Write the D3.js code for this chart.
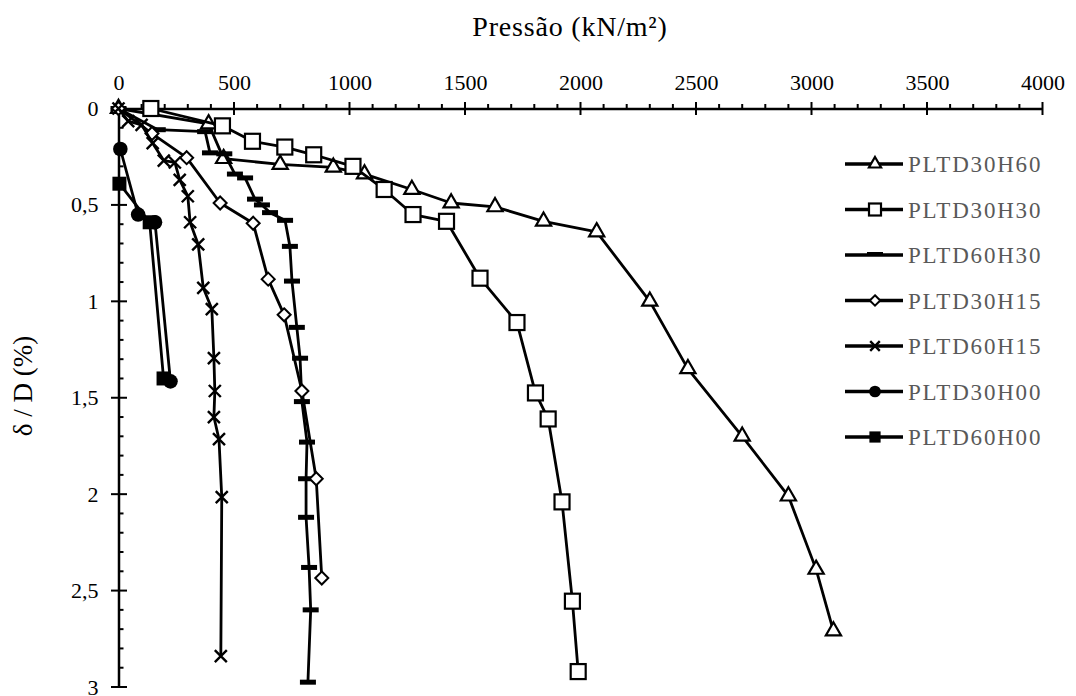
<!DOCTYPE html>
<html>
<head>
<meta charset="utf-8">
<script src="https://cdn.jsdelivr.net/npm/d3@7"></script>
<style>
  body { margin: 0; background: #fff; }
  text { font-family: "Liberation Serif", "Times New Roman", serif; }
</style>
</head>
<body>
<div id="chart"></div>
<script>
// pressure (kN/m2), settlement delta/D (%)
var pltd30h60 = [[0, 0], [390, 0.08], [455, 0.26], [700, 0.29], [930, 0.305], [1065, 0.34],
                 [1270, 0.42], [1440, 0.49], [1630, 0.51], [1840, 0.585], [2070, 0.64],
                 [2300, 1.0], [2465, 1.35], [2700, 1.70], [2900, 2.01], [3020, 2.39], [3095, 2.71]];
var pltd30h30 = [[140, 0], [450, 0.09], [580, 0.17], [720, 0.2], [845, 0.24], [1015, 0.3],
                 [1150, 0.42], [1275, 0.55], [1420, 0.585], [1565, 0.88], [1725, 1.11],
                 [1805, 1.475], [1860, 1.61], [1920, 2.04], [1965, 2.555], [1990, 2.92]];
var pltd60h30 = [[0, 0], [170, 0.11], [375, 0.12], [396, 0.23], [458, 0.235], [504, 0.34],
                 [548, 0.36], [591, 0.47], [621, 0.5], [656, 0.54], [721, 0.58], [742, 0.715],
                 [751, 0.895], [772, 1.135], [786, 1.295], [794, 1.52], [816, 1.73], [812, 1.92],
                 [812, 2.12], [825, 2.38], [832, 2.6], [820, 2.975]];
var pltd30h15 = [[0, 0], [145, 0.13], [295, 0.255], [440, 0.49], [583, 0.595], [648, 0.885],
                 [717, 1.07], [794, 1.465], [856, 1.92], [880, 2.435]];
var pltd60h15 = [[0, 0], [42, 0.065], [100, 0.085], [148, 0.18], [196, 0.27], [244, 0.28],
                 [265, 0.37], [300, 0.455], [310, 0.59], [345, 0.705], [367, 0.93], [404, 1.04],
                 [413, 1.295], [417, 1.465], [413, 1.6], [435, 1.715], [447, 2.015], [443, 2.84]];
var pltd30h00 = [[8, 0.21], [85, 0.55], [158, 0.59], [225, 1.415]];
var pltd60h00 = [[4, 0.39], [135, 0.59], [195, 1.40]];

var seriesNames = ["PLTD30H60", "PLTD30H30", "PLTD60H30", "PLTD30H15", "PLTD60H15", "PLTD30H00", "PLTD60H00"];
var seriesData = [pltd30h60, pltd30h30, pltd60h30, pltd30h15, pltd60h15, pltd30h00, pltd60h00];
var seriesMarker = ["triangle", "square", "dash", "diamond", "cross", "circle", "filledsquare"];

var xTicks = [0, 500, 1000, 1500, 2000, 2500, 3000, 3500, 4000];
var yTicks = [0, 0.5, 1, 1.5, 2, 2.5, 3];

function init() {
    var w = 1076, h = 696;
    var svg = d3.select("#chart").append("svg")
        .attr("width", w).attr("height", h);

    var xScale = d3.scaleLinear().domain([0, 4000]).range([118.5, 1042.5]);
    var yScale = d3.scaleLinear().domain([0, 3]).range([108.5, 687]);

    // marker drawing
    function marker(g, type, x, y, s) {
        s = s || 1;
        if (type == "triangle") {
            g.append("path")
                .attr("d", d3.symbol().type(d3.symbolTriangle).size(100 * s * s)())
                .attr("transform", "translate(" + x + "," + y + ")")
                .attr("fill", "#fff").attr("stroke", "#000").attr("stroke-width", 2.2);
        } else if (type == "square") {
            var a = 7.5 * s;
            g.append("rect").attr("x", x - a).attr("y", y - a)
                .attr("width", 2 * a).attr("height", 2 * a)
                .attr("fill", "#fff").attr("stroke", "#000").attr("stroke-width", 2.2);
        } else if (type == "dash") {
            g.append("rect").attr("x", x - 8 * s).attr("y", y - 2.5)
                .attr("width", 16 * s).attr("height", 5)
                .attr("fill", "#000");
        } else if (type == "diamond") {
            var d = 6.5 * s;
            g.append("path")
                .attr("d", "M" + x + "," + (y - d) + "L" + (x + d) + "," + y + "L" + x + "," + (y + d) + "L" + (x - d) + "," + y + "Z")
                .attr("fill", "#fff").attr("stroke", "#000").attr("stroke-width", 2);
        } else if (type == "cross") {
            var c = 6 * s;
            g.append("path")
                .attr("d", "M" + (x - c) + "," + (y - c) + "L" + (x + c) + "," + (y + c) + "M" + (x + c) + "," + (y - c) + "L" + (x - c) + "," + (y + c))
                .attr("stroke", "#000").attr("stroke-width", 2.4).attr("fill", "none");
        } else if (type == "circle") {
            g.append("circle").attr("cx", x).attr("cy", y).attr("r", 7.3 * s)
                .attr("fill", "#000");
        } else if (type == "filledsquare") {
            var b = 7 * s;
            g.append("rect").attr("x", x - b).attr("y", y - b)
                .attr("width", 2 * b).attr("height", 2 * b)
                .attr("fill", "#000");
        }
    }

    // axes
    var xAxis = d3.axisTop(xScale).tickValues(xTicks).tickSize(0).tickPadding(19)
        .tickFormat(function(d) { return d; });
    var gx = svg.append("g").attr("transform", "translate(0,108.5)").call(xAxis);
    gx.select(".domain").attr("stroke-width", 2.5);
    gx.selectAll("text").attr("font-size", 22).attr("fill", "#000")
        .attr("font-family", "Liberation Serif");

    var yAxis = d3.axisLeft(yScale).tickValues(yTicks).tickSize(0).tickPadding(20)
        .tickFormat(function(d) { return String(d).replace(".", ","); });
    var gy = svg.append("g").attr("transform", "translate(118.5,0)").call(yAxis);
    gy.select(".domain").attr("stroke-width", 2.5);
    gy.selectAll("text").attr("font-size", 22).attr("fill", "#000")
        .attr("font-family", "Liberation Serif");

    // tick marks
    var xMinor = d3.range(0, 4001, 100);
    svg.selectAll(".xt").data(xMinor).enter().append("line")
        .attr("x1", function(d) { return xScale(d); })
        .attr("x2", function(d) { return xScale(d); })
        .attr("y1", function(d) { return d % 500 == 0 ? 102 : 104; })
        .attr("y2", function(d) { return d % 500 == 0 ? 115 : 108.5; })
        .attr("stroke", "#000").attr("stroke-width", 2);
    var yMinor = d3.range(0, 31).map(function(i) { return i / 10; });
    svg.selectAll(".yt").data(yMinor).enter().append("line")
        .attr("y1", function(d) { return yScale(d); })
        .attr("y2", function(d) { return yScale(d); })
        .attr("x1", function(d, i) { return i % 5 == 0 ? 111 : 118.5; })
        .attr("x2", function(d, i) { return i % 5 == 0 ? 127 : 123.5; })
        .attr("stroke", "#000").attr("stroke-width", 2);

    // axis titles
    svg.append("text").attr("x", 570).attr("y", 36)
        .attr("text-anchor", "middle").attr("font-size", 28)
        .attr("letter-spacing", 0.8)
        .text("Pressão (kN/m²)");
    svg.append("text")
        .attr("transform", "translate(32,386) rotate(-90)")
        .attr("text-anchor", "middle").attr("font-size", 27)
        .text("δ / D (%)");

    // series
    var line = d3.line()
        .x(function(d) { return xScale(d[0]); })
        .y(function(d) { return yScale(d[1]); });

    seriesData.forEach(function(data, k) {
        var g = svg.append("g");
        g.append("path").datum(data).attr("d", line)
            .attr("fill", "none").attr("stroke", "#000").attr("stroke-width", 2.8)
            .attr("stroke-linejoin", "round");
        data.forEach(function(d) {
            marker(g, seriesMarker[k], xScale(d[0]), yScale(d[1]), 1);
        });
    });

    // legend
    var leg = svg.append("g");
    seriesNames.forEach(function(name, k) {
        var ly = 164 + k * 45.5;
        leg.append("line").attr("x1", 845).attr("x2", 903).attr("y1", ly).attr("y2", ly)
            .attr("stroke", "#000").attr("stroke-width", 3.5);
        if (seriesMarker[k] == "dash") {
            leg.append("rect").attr("x", 867).attr("y", ly - 3).attr("width", 16).attr("height", 4)
                .attr("fill", "#000");
        } else {
            marker(leg, seriesMarker[k], 875, ly, 0.8);
        }
        leg.append("text").attr("x", 908).attr("y", ly + 8)
            .attr("font-size", 23).attr("fill", "#595959")
            .attr("letter-spacing", 1.8)
            .text(name);
    });
}
window.onload = init;
</script>
</body>
</html>
